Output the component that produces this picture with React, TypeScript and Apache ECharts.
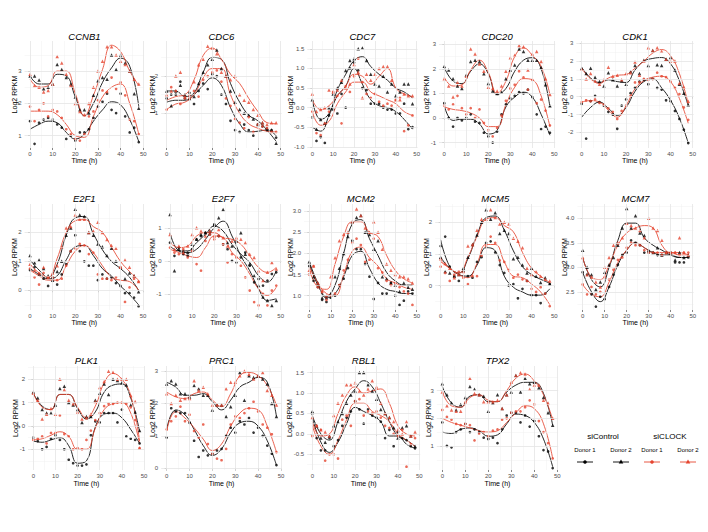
import React, { useEffect, useRef } from "react";
import * as echarts from "echarts";

// ---------- time axes ----------
const TIME_PTS = [0, 2, 4, 6, 8, 10, 12, 14, 16, 18, 20, 22, 24, 26, 28, 30, 32, 34, 36, 38, 40, 42, 44, 46, 48];
const TIME_FIT = [0, 4, 8, 12, 16, 20, 24, 28, 32, 36, 40, 44, 48];
const X_TICKS = [0, 10, 20, 30, 40, 50];

// ---------- CCNB1 ----------
const CCNB1_c1 = [1.45, 0.75, 1.4, 1.5, 1.55, 1.5, 1.35, 1.25, 0.9, 1.0, 0.85, 1.1, 1.1, 1.2, 1.55, 1.9, 2.05, 2.3, 1.8, 1.7, 2.3, 1.6, 1.1, 1.25, 0.8];
const CCNB1_c2 = [2.85, 2.85, 2.72, 2.45, 2.5, 2.6, 3.2, 3.05, 2.8, 2.6, 2.2, 1.8, 1.8, 1.7, 2.25, 2.7, 2.8, 2.75, 3.5, 3.05, 3.5, 3.25, 3.0, 2.3, 1.85];
const CCNB1_k1 = [1.9, 1.45, 1.8, 2.0, 1.6, 1.8, 1.75, 1.55, 1.2, 1.05, 0.9, 0.85, 1.05, 1.6, 1.75, 2.1, 2.4, 2.35, 2.8, 2.45, 2.65, 2.25, 1.5, 1.45, 1.05];
const CCNB1_k2 = [2.9, 2.55, 2.5, 2.35, 2.4, 2.6, 3.45, 3.25, 2.9, 2.55, 2.0, 1.75, 1.65, 2.0, 2.5, 3.0, 3.3, 3.75, 3.75, 3.5, 3.3, 3.2, 3.0, 2.75, 2.6];
const CCNB1_fc1 = [1.2, 1.35, 1.45, 1.4, 1.1, 0.9, 1.05, 1.45, 1.8, 2.05, 1.95, 1.5, 0.82];
const CCNB1_fc2 = [2.85, 2.6, 2.6, 2.9, 2.85, 2.2, 1.62, 2.0, 2.65, 3.1, 3.4, 3.15, 1.9];
const CCNB1_fk1 = [1.76, 1.76, 1.76, 1.65, 1.35, 1.0, 0.95, 1.6, 2.2, 2.5, 2.6, 2.0, 1.05];
const CCNB1_fk2 = [2.75, 2.5, 2.55, 3.0, 3.0, 2.3, 1.62, 2.25, 3.05, 3.8, 3.6, 3.0, 2.55];
const CCNB1_ticks = [1, 2, 3];

// ---------- CDC6 ----------
const CDC6_c1 = [1.4, 1.5, 1.5, 1.85, 1.4, 1.55, 1.25, 1.6, 1.8, 1.65, 2.05, 2.0, 1.5, 1.25, 0.8, 0.55, 0.5, 0.7, 0.55, 0.4, 0.7, 0.65, 0.55, 0.55, 0.35];
const CDC6_c2 = [1.6, 1.2, 1.6, 1.75, 1.5, 1.4, 1.45, 1.8, 2.1, 2.3, 2.45, 2.7, 2.2, 2.0, 1.6, 1.3, 1.1, 1.0, 0.95, 0.85, 0.7, 0.75, 0.6, 0.55, 0.2];
const CDC6_k1 = [1.1, 1.7, 1.6, 1.25, 1.4, 1.4, 1.6, 1.45, 1.9, 2.0, 2.1, 2.15, 1.85, 1.4, 1.2, 0.85, 0.75, 0.6, 0.9, 0.5, 0.7, 0.65, 0.6, 0.5, 0.5];
const CDC6_k2 = [1.5, 1.6, 2.0, 2.1, 1.45, 1.5, 1.85, 2.3, 2.45, 2.8, 2.75, 2.6, 2.1, 2.0, 1.9, 2.0, 1.5, 1.35, 1.3, 1.1, 0.95, 0.75, 0.7, 0.75, 0.75];
const CDC6_fc1 = [1.3, 1.35, 1.35, 1.5, 1.75, 1.95, 1.75, 1.15, 0.72, 0.5, 0.52, 0.55, 0.4];
const CDC6_fc2 = [1.6, 1.6, 1.45, 1.55, 2.1, 2.5, 2.45, 1.8, 1.3, 0.95, 0.8, 0.55, 0.25];
const CDC6_fk1 = [1.1, 1.25, 1.3, 1.5, 1.95, 2.2, 2.2, 1.5, 1.0, 0.72, 0.6, 0.52, 0.5];
const CDC6_fk2 = [1.35, 1.45, 1.5, 1.9, 2.55, 2.75, 2.45, 2.05, 1.8, 1.4, 1.05, 0.75, 0.72];
const CDC6_ticks = [1, 2];

// ---------- CDC7 ----------
const CDC7_c1 = [-0.25, -0.85, -0.75, -0.9, -0.2, -0.05, -0.15, 0.35, 0.0, 1.0, 1.15, 0.95, 0.5, 0.45, 0.1, 0.1, 0.1, 0.0, -0.05, -0.05, -0.15, -0.15, 0.1, -0.55, -0.5];
const CDC7_c2 = [0.2, -0.55, -0.3, -0.4, 0.0, 0.35, 0.5, 0.65, 0.95, 1.2, 1.25, 1.5, 1.52, 1.2, 0.85, 0.6, 0.55, 0.8, 0.4, 0.6, 0.3, 0.4, 0.6, 0.6, 0.1];
const CDC7_k1 = [-0.1, -0.65, -0.7, -0.4, -0.1, 0.4, 0.3, -0.4, 0.55, 0.4, 0.8, 1.25, 0.65, 0.35, 0.25, 0.35, 0.15, 0.05, 0.1, 0.05, 0.2, 0.25, -0.6, -0.45, -0.2];
const CDC7_k2 = [0.35, -0.1, -0.05, 0.0, 0.45, 0.4, 0.45, 0.7, 0.5, 0.6, 1.1, 0.9, 0.25, 0.85, 0.7, 0.85, 1.0, 1.05, 1.05, 0.7, 0.2, 0.2, 0.35, 0.3, 0.3];
const CDC7_fc1 = [-0.5, -0.6, -0.2, 0.3, 0.55, 1.0, 0.6, 0.2, 0.05, 0.0, -0.1, -0.3, -0.55];
const CDC7_fc2 = [0.2, -0.3, -0.15, 0.45, 0.85, 1.2, 1.3, 1.05, 0.85, 0.7, 0.5, 0.4, 0.25];
const CDC7_fk1 = [-0.1, -0.45, -0.35, 0.1, 0.4, 0.65, 0.65, 0.4, 0.3, 0.2, 0.1, -0.1, -0.2];
const CDC7_fk2 = [0.2, -0.05, 0.05, 0.3, 0.55, 0.85, 0.8, 0.6, 0.8, 1.0, 0.5, 0.35, 0.28];
const CDC7_ticks = [-1.0, -0.5, 0.0, 0.5, 1.0, 1.5];

// ---------- CDC20 ----------
const CDC20_c1 = [0.6, 0.0, -0.35, 0.0, -0.1, 0.0, 0.15, -0.15, -0.2, -0.6, -0.75, -1.0, -0.55, 0.15, 0.55, 0.8, 0.9, 1.05, 1.0, 1.15, 0.85, 0.15, -0.45, -0.35, -0.6];
const CDC20_c2 = [2.1, 1.95, 1.6, 1.3, 1.2, 1.75, 2.3, 2.35, 2.3, 1.8, 1.4, 1.1, 1.0, 1.05, 1.6, 1.95, 2.15, 2.8, 2.7, 2.35, 2.35, 2.35, 2.05, 1.35, 0.5];
const CDC20_k1 = [0.5, 0.35, 0.55, 0.9, 0.4, 0.15, 0.4, 0.0, 0.35, -0.2, -0.5, -0.75, -0.4, 0.1, 0.7, 1.2, 1.35, 1.9, 1.65, 1.15, 1.55, 0.6, 0.75, 0.3, -0.3];
const CDC20_k2 = [1.6, 1.3, 0.85, 1.45, 1.3, 1.7, 2.8, 2.6, 2.2, 1.9, 1.25, 1.2, 1.1, 1.3, 1.9, 2.45, 2.55, 2.95, 2.9, 1.95, 2.6, 2.7, 2.3, 1.6, 0.95];
const CDC20_fc1 = [0.5, -0.1, -0.05, -0.05, -0.25, -0.65, -0.5, 0.45, 0.85, 1.05, 0.85, 0.15, -0.7];
const CDC20_fc2 = [2.05, 1.5, 1.4, 1.9, 2.2, 1.8, 0.95, 1.2, 1.9, 2.35, 2.45, 2.0, 0.45];
const CDC20_fk1 = [0.45, 0.35, 0.3, 0.2, 0.0, -0.35, -0.35, 0.55, 1.25, 1.6, 1.55, 0.9, -0.35];
const CDC20_fk2 = [1.65, 1.3, 1.35, 1.95, 2.35, 1.85, 1.0, 1.5, 2.5, 2.85, 2.55, 2.1, 0.95];
const CDC20_ticks = [-1, 0, 1, 2, 3];

// ---------- CDK1 ----------
const CDK1_c1 = [-0.4, -2.35, -0.25, 0.05, -0.3, -0.5, -0.85, -1.0, -1.8, -0.5, -0.15, 0.2, 0.5, 0.85, 0.95, 0.7, 1.0, 0.5, 0.4, -0.2, -0.25, -0.8, -1.25, -1.85, -2.6];
const CDK1_c2 = [1.6, 1.3, 1.6, 1.1, 0.85, 0.6, 1.35, 0.95, 0.6, 0.9, 0.7, 1.4, 1.75, 1.3, 2.05, 1.75, 2.6, 1.8, 1.75, 2.1, 2.2, 1.5, 0.7, 0.2, -0.45];
const CDK1_k1 = [-0.3, -0.2, -0.25, -0.15, -0.35, -0.45, -0.65, -0.85, -1.25, -0.8, -0.5, 0.05, 0.8, 0.8, 1.0, 0.95, 1.0, 1.35, 1.15, 1.1, 0.85, 0.5, 0.15, -0.6, -1.3];
const CDK1_k2 = [1.55, 1.0, 1.3, 0.9, 0.7, 0.95, 1.65, 1.15, 1.2, 0.95, 1.3, 1.35, 1.95, 1.2, 2.0, 2.75, 2.6, 2.75, 2.55, 2.1, 2.0, 2.0, 0.75, 0.55, -0.25];
const CDK1_fc1 = [-1.15, -0.6, -0.3, -0.65, -1.05, -0.6, 0.3, 0.85, 1.0, 0.5, -0.2, -1.2, -2.6];
const CDK1_fc2 = [1.65, 1.05, 0.8, 0.95, 0.85, 0.8, 1.5, 2.0, 2.15, 2.2, 1.85, 0.9, -0.5];
const CDK1_fk1 = [-0.3, -0.22, -0.3, -0.75, -1.15, -0.5, 0.45, 0.9, 1.1, 1.15, 0.85, -0.1, -1.5];
const CDK1_fk2 = [1.6, 1.0, 0.75, 1.05, 1.2, 1.25, 1.6, 2.0, 2.45, 2.65, 2.3, 1.3, -0.4];
const CDK1_ticks = [-2, -1, 0, 1, 2, 3];

// ---------- E2F1 ----------
const E2F1_c1 = [0.7, 0.8, 0.55, 0.4, 0.15, 0.45, 0.2, 0.55, 0.9, 1.35, 1.9, 1.35, 1.0, 0.85, 0.85, 0.35, 0.55, 0.4, 0.45, 0.25, 0.15, -0.1, -0.1, -0.25, -0.55];
const E2F1_c2 = [1.2, 0.95, 1.05, 0.75, 0.5, 0.35, 0.65, 1.0, 1.9, 2.15, 2.8, 2.6, 2.55, 2.0, 1.9, 1.6, 1.5, 1.2, 1.45, 1.0, 0.8, 0.4, 0.6, 0.5, -0.05];
const E2F1_k1 = [0.75, 0.45, 0.2, 0.6, 0.45, 0.45, 0.35, 0.4, 0.85, 1.35, 1.45, 1.6, 1.55, 1.25, 1.3, 0.55, 0.4, 0.4, 0.35, 0.45, 0.8, -0.4, 0.1, 0.4, 0.3];
const E2F1_k2 = [0.9, 0.7, 0.6, 0.8, 0.45, 0.6, 0.85, 1.5, 2.15, 2.2, 2.6, 2.45, 2.45, 2.0, 2.05, 2.35, 2.0, 1.75, 1.55, 1.45, 0.8, 1.05, 0.8, 0.5, 0.3];
const E2F1_fc1 = [0.75, 0.55, 0.4, 0.5, 1.05, 1.5, 1.55, 1.2, 0.75, 0.5, 0.15, -0.15, -0.5];
const E2F1_fc2 = [1.05, 0.7, 0.45, 0.9, 1.9, 2.5, 2.55, 1.95, 1.4, 1.0, 0.75, 0.45, 0.0];
const E2F1_fk1 = [0.7, 0.5, 0.35, 0.35, 0.85, 1.35, 1.55, 1.3, 0.85, 0.45, 0.35, 0.3, 0.0];
const E2F1_fk2 = [0.9, 0.6, 0.45, 1.1, 2.0, 2.4, 2.45, 2.2, 2.0, 1.5, 1.0, 0.65, 0.35];
const E2F1_ticks = [0, 1, 2];

// ---------- E2F7 ----------
const E2F7_c1 = [0.55, 0.15, 0.4, 0.2, 0.15, 0.35, 0.65, 0.75, 0.85, 0.8, 1.1, 0.75, 0.5, 0.35, 0.0, -0.05, 0.1, 0.25, -0.15, -0.65, -0.55, -0.75, -0.6, -0.4, -0.35];
const E2F7_c2 = [1.4, -0.3, 0.35, 0.3, 0.25, 0.5, 0.65, 0.8, 0.85, 0.9, 1.1, 1.3, 1.55, 0.55, 0.45, 0.6, 0.85, 0.2, -0.1, -0.45, -0.75, -1.1, -1.2, -1.35, -1.2];
const E2F7_k1 = [0.4, 0.25, 0.2, 0.35, 0.1, 0.3, -0.1, -0.3, 0.6, 0.8, 0.65, 0.75, 0.5, -0.05, 0.2, 0.1, -0.15, -0.5, -0.9, -1.25, -1.35, -1.0, -1.35, -0.9, -0.75];
const E2F7_k2 = [0.8, 0.35, 0.45, 0.25, 0.45, 0.8, 1.0, 0.9, 0.75, 0.9, 0.75, 0.95, 0.7, 0.45, 0.6, 0.7, 0.65, 0.55, 0.2, 0.1, -0.3, -0.6, -0.35, -0.05, -0.25];
const E2F7_fc1 = [0.45, 0.3, 0.3, 0.55, 0.8, 1.05, 0.9, 0.5, 0.2, -0.05, -0.45, -0.65, -0.3];
const E2F7_fc2 = [0.85, 0.3, 0.25, 0.35, 0.65, 1.0, 1.2, 0.75, 0.15, -0.3, -0.85, -1.2, -1.15];
const E2F7_fk1 = [0.35, 0.25, 0.15, 0.1, 0.4, 0.75, 0.7, 0.25, 0.0, -0.4, -0.85, -1.05, -0.8];
const E2F7_fk2 = [0.55, 0.4, 0.45, 0.75, 0.85, 0.85, 0.7, 0.65, 0.5, 0.15, -0.2, -0.35, -0.2];
const E2F7_ticks = [-1, 0, 1];

// ---------- MCM2 ----------
const MCM2_c1 = [1.7, 1.35, 1.2, 0.9, 0.85, 0.95, 1.0, 1.25, 1.4, 1.65, 2.3, 2.1, 2.1, 1.75, 1.45, 0.92, 1.3, 1.05, 1.05, 1.3, 1.0, 0.78, 0.88, 1.1, 1.05];
const MCM2_c2 = [1.8, 1.45, 1.3, 0.95, 0.95, 1.05, 1.45, 1.65, 2.0, 2.4, 2.75, 2.85, 2.9, 2.5, 2.45, 2.1, 2.3, 1.45, 1.4, 1.3, 1.25, 1.1, 1.3, 1.2, 1.15];
const MCM2_k1 = [1.5, 1.7, 1.2, 1.1, 0.9, 1.0, 1.05, 1.25, 1.6, 1.85, 2.25, 2.35, 2.2, 1.8, 1.85, 2.35, 1.65, 1.55, 1.35, 1.25, 1.3, 1.2, 1.1, 1.05, 0.78];
const MCM2_k2 = [1.6, 1.7, 1.3, 1.1, 1.0, 1.45, 1.9, 2.3, 2.45, 2.5, 2.75, 3.05, 2.9, 2.6, 2.5, 2.75, 2.5, 2.1, 1.75, 1.6, 1.5, 1.45, 1.45, 1.4, 1.3];
const MCM2_fc1 = [1.8, 1.3, 0.95, 1.05, 1.45, 1.95, 2.05, 1.65, 1.3, 1.15, 1.1, 1.05, 1.05];
const MCM2_fc2 = [1.75, 1.25, 0.98, 1.25, 2.0, 2.7, 2.8, 2.35, 1.95, 1.55, 1.35, 1.25, 1.25];
const MCM2_fk1 = [1.7, 1.3, 1.05, 1.0, 1.5, 2.05, 2.15, 1.9, 1.7, 1.4, 1.3, 1.2, 1.15];
const MCM2_fk2 = [1.65, 1.2, 1.15, 1.75, 2.4, 2.75, 2.75, 2.5, 2.4, 1.95, 1.6, 1.4, 1.3];
const MCM2_ticks = [1.0, 1.5, 2.0, 2.5, 3.0];

// ---------- MCM5 ----------
const MCM5_c1 = [1.25, 1.55, 0.6, 0.3, 0.15, 0.45, 0.3, 0.25, 0.75, 0.9, 1.35, 1.4, 1.05, 0.65, 0.4, 0.0, 0.05, -0.4, -0.1, 0.15, -0.3, -0.3, -0.55, -0.25, 0.05];
const MCM5_c2 = [0.9, 0.45, 0.4, 0.3, 0.35, 0.55, 0.9, 1.3, 1.6, 2.0, 2.4, 2.1, 2.3, 1.65, 1.75, 1.65, 0.85, 0.9, 0.65, 0.4, 0.55, 0.3, 0.1, 0.25, 0.05];
const MCM5_k1 = [0.6, 0.4, 0.15, 0.35, 0.45, 0.25, 0.05, 0.3, 0.3, 0.95, 1.25, 1.55, 1.35, 0.8, 0.75, 0.5, 0.25, 0.35, 0.2, 0.15, -0.1, -0.2, -0.05, -0.25, -0.65];
const MCM5_k2 = [0.85, 0.7, 0.55, 0.25, 0.35, 0.45, 1.25, 1.3, 1.75, 2.1, 2.1, 2.4, 2.15, 1.95, 2.0, 1.95, 1.5, 1.4, 1.2, 0.55, 0.35, 0.45, 0.3, 0.2, 0.15];
const MCM5_fc1 = [1.45, 0.6, 0.35, 0.3, 0.65, 1.2, 1.1, 0.3, -0.05, -0.2, -0.3, -0.3, -0.1];
const MCM5_fc2 = [0.9, 0.55, 0.4, 0.85, 1.6, 2.15, 2.2, 1.75, 1.1, 0.6, 0.35, 0.2, 0.08];
const MCM5_fk1 = [0.75, 0.55, 0.35, 0.25, 0.7, 1.3, 1.3, 0.75, 0.3, 0.25, 0.05, -0.2, -0.6];
const MCM5_fk2 = [0.8, 0.55, 0.4, 0.9, 1.55, 2.1, 2.15, 1.9, 1.7, 1.05, 0.55, 0.3, 0.1];
const MCM5_ticks = [0, 1, 2];

// ---------- MCM7 ----------
const MCM7_c1 = [2.9, 2.85, 2.45, 2.2, 2.4, 2.35, 2.6, 2.85, 3.05, 3.25, 3.3, 3.55, 3.5, 3.45, 3.3, 3.3, 3.3, 3.25, 3.25, 3.3, 3.3, 3.1, 3.1, 3.1, 3.2];
const MCM7_c2 = [3.35, 3.0, 2.85, 2.55, 2.7, 2.9, 3.05, 3.2, 3.45, 3.8, 4.2, 3.8, 4.05, 3.7, 3.65, 3.35, 3.3, 3.4, 3.25, 3.3, 3.3, 3.15, 3.3, 3.2, 3.25];
const MCM7_k1 = [2.65, 2.45, 2.6, 2.45, 2.5, 2.8, 2.75, 2.95, 3.15, 3.2, 3.4, 3.5, 3.45, 3.45, 3.35, 3.3, 3.3, 3.3, 3.25, 3.3, 3.3, 3.3, 3.25, 3.3, 3.3];
const MCM7_k2 = [3.2, 2.85, 2.8, 2.7, 2.6, 3.0, 3.2, 3.45, 3.5, 3.6, 3.9, 3.85, 3.8, 3.75, 3.6, 4.0, 3.8, 3.75, 3.55, 3.3, 3.3, 3.3, 3.6, 3.3, 3.25];
const MCM7_fc1 = [2.9, 2.5, 2.3, 2.6, 3.05, 3.35, 3.5, 3.4, 3.3, 3.25, 3.25, 3.2, 3.2];
const MCM7_fc2 = [3.2, 2.75, 2.6, 3.0, 3.55, 3.9, 3.9, 3.6, 3.45, 3.35, 3.25, 3.2, 3.2];
const MCM7_fk1 = [2.65, 2.45, 2.4, 2.7, 3.1, 3.35, 3.5, 3.4, 3.3, 3.3, 3.3, 3.25, 3.25];
const MCM7_fk2 = [3.2, 2.8, 2.75, 3.05, 3.45, 3.7, 3.8, 3.85, 3.8, 3.45, 3.3, 3.3, 3.25];
const MCM7_ticks = [2.5, 3.0, 3.5, 4.0];

// ---------- PLK1 ----------
const PLK1_c1 = [-0.5, -0.65, -1.0, -0.9, -0.55, -0.4, -0.6, -1.0, -1.45, -1.6, -1.7, -1.7, -1.65, -0.4, 0.2, 0.15, 0.55, 0.55, 0.55, 0.15, 0.7, -0.45, -0.55, -0.6, -0.75];
const PLK1_c2 = [1.45, 1.2, 0.7, 0.55, 0.55, 0.9, 1.6, 1.7, 1.0, 0.9, 0.7, 0.15, 0.4, 0.4, 1.1, 1.4, 1.8, 1.35, 2.0, 1.95, 1.85, 1.75, 0.9, 0.6, -0.2];
const PLK1_k1 = [-0.6, -0.55, -0.45, -0.75, -0.3, -0.3, 0.45, -0.35, -0.45, -1.0, -0.95, -1.0, -0.6, -0.2, 0.25, 0.55, 0.85, 0.95, 0.95, 1.0, 1.0, 0.95, 0.8, 0.25, -0.95];
const PLK1_k2 = [1.4, 1.1, 0.3, 0.5, 0.75, 0.5, 2.0, 1.55, 1.1, 0.95, 0.6, 0.3, 0.35, 0.5, 1.05, 1.65, 1.9, 2.35, 2.3, 2.0, 2.0, 2.0, 1.3, 1.05, -0.95];
const PLK1_fc1 = [-0.65, -0.7, -0.6, -0.5, -0.85, -1.6, -1.5, -0.05, 0.5, 0.55, 0.35, -0.15, -0.75];
const PLK1_fc2 = [1.4, 0.85, 0.7, 1.35, 1.35, 0.75, 0.3, 0.6, 1.45, 1.75, 1.8, 1.2, -0.25];
const PLK1_fk1 = [-0.6, -0.55, -0.4, -0.25, -0.45, -1.0, -1.0, -0.1, 0.7, 0.95, 1.0, 0.55, -0.75];
const PLK1_fk2 = [1.4, 0.8, 0.7, 1.35, 1.35, 0.8, 0.35, 0.85, 1.85, 2.25, 2.0, 1.3, -0.65];
const PLK1_ticks = [-1, 0, 1, 2];

// ---------- PRC1 ----------
const PRC1_c1 = [0.95, 1.85, 1.75, 1.7, 1.7, 1.4, 0.85, 0.35, 0.55, 0.4, 0.45, 0.55, 0.6, 1.0, 1.25, 1.1, 1.45, 1.35, 1.55, 1.1, 1.25, 1.0, 0.7, 0.45, 0.1];
const PRC1_c2 = [2.6, 2.7, 2.6, 2.3, 2.3, 2.2, 2.55, 2.45, 2.25, 2.25, 1.8, 1.95, 1.95, 1.6, 1.9, 2.25, 2.95, 2.1, 2.85, 2.8, 2.85, 2.75, 2.6, 2.0, 1.6];
const PRC1_k1 = [1.2, 1.45, 1.6, 1.9, 1.45, 1.65, 1.15, 0.95, 1.35, 0.75, 0.45, 0.3, 0.25, 0.6, 1.35, 1.6, 1.55, 1.7, 1.85, 2.05, 1.75, 1.35, 1.25, 1.05, 0.5];
const PRC1_k2 = [2.3, 2.0, 2.25, 2.1, 2.15, 2.15, 2.7, 2.4, 2.5, 2.3, 1.95, 1.95, 1.95, 2.45, 2.65, 2.65, 2.85, 3.0, 2.9, 2.75, 2.85, 2.95, 2.4, 2.25, 1.95];
const PRC1_fc1 = [1.2, 1.8, 1.65, 1.2, 0.7, 0.4, 0.6, 1.1, 1.4, 1.45, 1.3, 0.85, 0.1];
const PRC1_fc2 = [2.65, 2.5, 2.25, 2.25, 2.3, 2.05, 1.8, 2.1, 2.5, 2.65, 2.8, 2.65, 1.6];
const PRC1_fk1 = [1.15, 1.75, 1.55, 1.25, 0.9, 0.55, 0.75, 1.3, 1.7, 1.85, 1.8, 1.3, 0.5];
const PRC1_fk2 = [2.35, 2.2, 2.15, 2.3, 2.35, 2.1, 1.9, 2.3, 2.85, 2.95, 2.85, 2.55, 1.95];
const PRC1_ticks = [0, 1, 2, 3];

// ---------- RBL1 ----------
const RBL1_c1 = [0.5, -0.1, -0.4, -0.4, -0.1, -0.3, -0.15, 0.2, 0.4, 0.55, 0.8, 0.6, 0.25, 0.6, 0.45, 0.4, 0.3, -0.1, 0.1, -0.3, 0.05, -0.1, -0.15, -0.3, -0.35];
const RBL1_c2 = [0.55, 0.2, -0.1, -0.2, -0.05, 0.2, 0.3, 0.5, 0.75, 0.95, 1.05, 1.5, 1.5, 1.2, 1.05, 0.85, 0.6, 0.5, 0.4, 0.15, -0.1, 0.15, 0.2, -0.05, -0.3];
const RBL1_k1 = [-0.05, 0.2, 0.1, -0.65, -0.5, -0.5, -0.6, 0.35, 0.45, 0.2, 0.8, 0.85, 0.45, 0.55, 0.5, 0.55, 0.4, 0.2, 0.15, 0.0, -0.05, 0.1, -0.8, -0.25, -0.1];
const RBL1_k2 = [0.4, 0.2, 0.1, 0.05, -0.05, 0.45, 0.75, 0.95, 1.2, 1.2, 1.25, 1.05, 0.95, 1.1, 1.3, 1.15, 0.75, 0.5, 0.4, 0.3, 0.1, 0.0, 0.3, -0.05, 0.05];
const RBL1_fc1 = [0.4, -0.2, -0.45, -0.2, 0.25, 0.65, 0.55, 0.45, 0.3, -0.05, -0.05, -0.25, -0.35];
const RBL1_fc2 = [0.45, 0.0, -0.15, 0.3, 0.8, 1.1, 1.3, 1.15, 0.75, 0.3, -0.05, -0.15, -0.3];
const RBL1_fk1 = [0.2, -0.3, -0.5, -0.15, 0.35, 0.75, 0.75, 0.55, 0.45, 0.3, 0.0, -0.15, -0.3];
const RBL1_fk2 = [0.3, -0.05, 0.0, 0.5, 0.95, 1.15, 1.0, 1.05, 1.1, 0.75, 0.2, 0.0, -0.05];
const RBL1_ticks = [-0.5, 0.0, 0.5, 1.0, 1.5];

// ---------- TPX2 ----------
const TPX2_c1 = [1.85, 1.0, 0.95, 1.5, 1.6, 1.8, 1.5, 1.6, 1.5, 1.3, 1.25, 1.3, 1.1, 1.6, 2.1, 2.2, 2.2, 1.85, 2.1, 1.7, 1.9, 1.35, 0.85, 0.8, 0.2];
const TPX2_c2 = [3.25, 2.85, 2.55, 2.3, 2.5, 2.75, 3.15, 3.05, 2.85, 2.8, 2.25, 2.55, 2.85, 2.35, 2.85, 2.95, 3.55, 2.95, 3.45, 3.25, 3.3, 3.1, 2.75, 2.2, 1.75];
const TPX2_k1 = [2.3, 2.05, 1.95, 1.8, 1.75, 1.8, 1.75, 1.2, 1.45, 1.5, 1.35, 1.55, 1.6, 1.95, 2.0, 2.2, 2.25, 2.25, 2.4, 2.65, 2.5, 1.9, 1.5, 1.1, 0.55];
const TPX2_k2 = [2.95, 2.45, 2.3, 2.25, 2.25, 2.6, 3.45, 2.9, 2.85, 2.6, 2.6, 2.6, 2.65, 2.35, 2.85, 3.3, 3.55, 3.65, 3.6, 3.05, 3.2, 3.2, 2.65, 2.55, 2.0];
const TPX2_fc1 = [1.5, 1.45, 1.6, 1.65, 1.55, 1.35, 1.4, 1.8, 2.15, 2.1, 1.85, 1.25, 0.25];
const TPX2_fc2 = [3.15, 2.55, 2.4, 2.8, 2.85, 2.6, 2.6, 2.95, 3.2, 3.3, 3.3, 2.9, 1.75];
const TPX2_fk1 = [2.0, 1.85, 1.75, 1.65, 1.55, 1.5, 1.55, 1.85, 2.2, 2.45, 2.35, 1.8, 0.55];
const TPX2_fk2 = [2.95, 2.45, 2.4, 2.75, 2.85, 2.65, 2.6, 3.0, 3.45, 3.6, 3.35, 2.85, 1.95];
const TPX2_ticks = [1, 2, 3];

// ---------- table built from the arrays ----------
const PANELS = [
  { gene: "CCNB1", pts: [CCNB1_c1, CCNB1_c2, CCNB1_k1, CCNB1_k2], fits: [CCNB1_fc1, CCNB1_fc2, CCNB1_fk1, CCNB1_fk2], ticks: CCNB1_ticks, yMin: 0.62, yMax: 3.93, dec: 0 },
  { gene: "CDC6", pts: [CDC6_c1, CDC6_c2, CDC6_k1, CDC6_k2], fits: [CDC6_fc1, CDC6_fc2, CDC6_fk1, CDC6_fk2], ticks: CDC6_ticks, yMin: 0.07, yMax: 2.94, dec: 0 },
  { gene: "CDC7", pts: [CDC7_c1, CDC7_c2, CDC7_k1, CDC7_k2], fits: [CDC7_fc1, CDC7_fc2, CDC7_fk1, CDC7_fk2], ticks: CDC7_ticks, yMin: -1.03, yMax: 1.70, dec: 1 },
  { gene: "CDC20", pts: [CDC20_c1, CDC20_c2, CDC20_k1, CDC20_k2], fits: [CDC20_fc1, CDC20_fc2, CDC20_fk1, CDC20_fk2], ticks: CDC20_ticks, yMin: -1.22, yMax: 3.13, dec: 0 },
  { gene: "CDK1", pts: [CDK1_c1, CDK1_c2, CDK1_k1, CDK1_k2], fits: [CDK1_fc1, CDK1_fc2, CDK1_fk1, CDK1_fk2], ticks: CDK1_ticks, yMin: -2.88, yMax: 3.13, dec: 0 },
  { gene: "E2F1", pts: [E2F1_c1, E2F1_c2, E2F1_k1, E2F1_k2], fits: [E2F1_fc1, E2F1_fc2, E2F1_fk1, E2F1_fk2], ticks: E2F1_ticks, yMin: -0.68, yMax: 2.98, dec: 0 },
  { gene: "E2F7", pts: [E2F7_c1, E2F7_c2, E2F7_k1, E2F7_k2], fits: [E2F7_fc1, E2F7_fc2, E2F7_fk1, E2F7_fk2], ticks: E2F7_ticks, yMin: -1.49, yMax: 1.72, dec: 0 },
  { gene: "MCM2", pts: [MCM2_c1, MCM2_c2, MCM2_k1, MCM2_k2], fits: [MCM2_fc1, MCM2_fc2, MCM2_fk1, MCM2_fk2], ticks: MCM2_ticks, yMin: 0.66, yMax: 3.17, dec: 1 },
  { gene: "MCM5", pts: [MCM5_c1, MCM5_c2, MCM5_k1, MCM5_k2], fits: [MCM5_fc1, MCM5_fc2, MCM5_fk1, MCM5_fk2], ticks: MCM5_ticks, yMin: -0.77, yMax: 2.58, dec: 0 },
  { gene: "MCM7", pts: [MCM7_c1, MCM7_c2, MCM7_k1, MCM7_k2], fits: [MCM7_fc1, MCM7_fc2, MCM7_fk1, MCM7_fk2], ticks: MCM7_ticks, yMin: 2.13, yMax: 4.29, dec: 1 },
  { gene: "PLK1", pts: [PLK1_c1, PLK1_c2, PLK1_k1, PLK1_k2], fits: [PLK1_fc1, PLK1_fc2, PLK1_fk1, PLK1_fk2], ticks: PLK1_ticks, yMin: -1.89, yMax: 2.57, dec: 0 },
  { gene: "PRC1", pts: [PRC1_c1, PRC1_c2, PRC1_k1, PRC1_k2], fits: [PRC1_fc1, PRC1_fc2, PRC1_fk1, PRC1_fk2], ticks: PRC1_ticks, yMin: -0.05, yMax: 3.15, dec: 0 },
  { gene: "RBL1", pts: [RBL1_c1, RBL1_c2, RBL1_k1, RBL1_k2], fits: [RBL1_fc1, RBL1_fc2, RBL1_fk1, RBL1_fk2], ticks: RBL1_ticks, yMin: -0.88, yMax: 1.66, dec: 1 },
  { gene: "TPX2", pts: [TPX2_c1, TPX2_c2, TPX2_k1, TPX2_k2], fits: [TPX2_fc1, TPX2_fc2, TPX2_fk1, TPX2_fk2], ticks: TPX2_ticks, yMin: 0.13, yMax: 3.89, dec: 0 },
];

// ---------- layout (pixels) ----------
const ROWS = [
  { top: 41, bottom: 148, title: 36.5, time: 160 },
  { top: 204, bottom: 310, title: 198.5, time: 322 },
  { top: 366, bottom: 470, title: 360.5, time: 483 },
];
const BOXES = [
  { row: 0, l: 24.6, r: 144.2, nameX: 14 },
  { row: 0, l: 161.2, r: 281.6, nameX: 152 },
  { row: 0, l: 307.3, r: 417.5, nameX: 290 },
  { row: 0, l: 439, r: 555.2, nameX: 426 },
  { row: 0, l: 576.4, r: 693.6, nameX: 564 },
  { row: 1, l: 24.6, r: 144, nameX: 14 },
  { row: 1, l: 164.7, r: 281.6, nameX: 152 },
  { row: 1, l: 304.1, r: 417.6, nameX: 290 },
  { row: 1, l: 435.2, r: 555.2, nameX: 426 },
  { row: 1, l: 577.4, r: 693.6, nameX: 564 },
  { row: 2, l: 28, r: 144.9, nameX: 15 },
  { row: 2, l: 161.2, r: 281.9, nameX: 152 },
  { row: 2, l: 307.2, r: 420.2, nameX: 289.5 },
  { row: 2, l: 436.8, r: 558.2, nameX: 428.5 },
];

const BLACK = "#000000";
const RED = "#E5452F";
const FONT = "'Liberation Sans', Arial, Helvetica, sans-serif";
const GROUPS = [
  { color: BLACK, symbol: "circle", size: 2.7 },
  { color: BLACK, symbol: "triangle", size: 3.5 },
  { color: RED, symbol: "circle", size: 2.7 },
  { color: RED, symbol: "triangle", size: 3.5 },
];

function minorOf(ticks: number[], lo: number, hi: number): number[] {
  const step = ticks[1] - ticks[0];
  const out: number[] = [];
  for (let v = ticks[0] - step / 2 - step * 4; v < hi; v += step) {
    if (v > lo && v < hi) out.push(Math.round(v * 1000) / 1000);
  }
  return out;
}

function txt(text: string, x: number, y: number, size: number, extra: any = {}, rotation = 0) {
  return {
    type: "text", x, y, rotation, silent: true,
    style: { text, fontSize: size, fontFamily: FONT, fontWeight: "normal", fill: "#000", align: "center", verticalAlign: "middle", ...extra },
  };
}

function buildOption() {
  const grid: any[] = [];
  const xAxis: any[] = [];
  const yAxis: any[] = [];
  const series: any[] = [];
  const graphic: any[] = [];

  PANELS.forEach((p, i) => {
    const b = BOXES[i];
    const row = ROWS[b.row];
    grid.push({ left: b.l, top: row.top, width: b.r - b.l, height: row.bottom - row.top, containLabel: false, outerBoundsMode: "none" });
    xAxis.push({
      gridIndex: i, type: "value", min: -2.4, max: 50.4,
      axisLine: { show: false }, splitLine: { show: false },
      axisTick: { show: true, length: 2, lineStyle: { color: "#333", width: 0.6 }, customValues: X_TICKS },
      axisLabel: { customValues: X_TICKS, fontSize: 6, color: "#4d4d4d", margin: 2.5, fontFamily: FONT },
    });
    yAxis.push({
      gridIndex: i, type: "value", min: p.yMin, max: p.yMax,
      axisLine: { show: false }, splitLine: { show: false },
      axisTick: { show: true, length: 2, lineStyle: { color: "#333", width: 0.6 }, customValues: p.ticks },
      axisLabel: { customValues: p.ticks, fontSize: 6, color: "#4d4d4d", margin: 3, fontFamily: FONT,
        formatter: (v: number) => v.toFixed(p.dec) },
    });

    const xMinor = [5, 15, 25, 35, 45];
    const yMinor = minorOf(p.ticks, p.yMin, p.yMax);
    const majorStyle = { color: "#e4e4e4", width: 0.8, type: "solid" };
    const minorStyle = { color: "#f1f1f1", width: 0.5, type: "solid" };
    series.push({
      type: "line", xAxisIndex: i, yAxisIndex: i, data: [], silent: true, z: 0,
      markLine: {
        silent: true, symbol: ["none", "none"], label: { show: false }, animation: false,
        emphasis: { disabled: true },
        data: [
          ...xMinor.map((v) => ({ xAxis: v, lineStyle: minorStyle })),
          ...yMinor.map((v) => ({ yAxis: v, lineStyle: minorStyle })),
          ...X_TICKS.map((v) => ({ xAxis: v, lineStyle: majorStyle })),
          ...p.ticks.map((v) => ({ yAxis: v, lineStyle: majorStyle })),
        ],
      },
    });

    GROUPS.forEach((g, k) => {
      series.push({
        type: "line", xAxisIndex: i, yAxisIndex: i, silent: true, z: 2,
        data: TIME_FIT.map((t, j) => [t, p.fits[k][j]]),
        smooth: 0.45, showSymbol: false, symbol: "none",
        lineStyle: { color: g.color, width: 0.85 },
      });
      series.push({
        type: "scatter", xAxisIndex: i, yAxisIndex: i, silent: true, z: 3,
        data: TIME_PTS.map((t, j) => [t, p.pts[k][j]]),
        symbol: g.symbol, symbolSize: g.size,
        itemStyle: { color: g.color, borderWidth: 0 },
      });
    });

    const cx = (b.l + b.r) / 2;
    graphic.push(txt(p.gene, cx, row.title, 9.5, { fontStyle: "italic" }));
    graphic.push(txt("Time (h)", cx, row.time, 7));
    graphic.push(txt("Log2 RPKM", b.nameX, (row.top + row.bottom) / 2, 7, {}, Math.PI / 2));
  });

  // legend
  graphic.push(txt("siControl", 603, 436, 8));
  graphic.push(txt("siCLOCK", 670, 436, 8));
  const keyX = [585, 621, 652, 688];
  const keyLabels = ["Donor 1", "Donor 2", "Donor 1", "Donor 2"];
  GROUPS.forEach((g, k) => {
    const x = keyX[k];
    const y = 462;
    graphic.push(txt(keyLabels[k], x, 450, 6));
    graphic.push({ type: "line", silent: true, shape: { x1: x - 8, y1: y, x2: x + 8, y2: y }, style: { stroke: g.color, lineWidth: 0.9 } });
    if (g.symbol === "circle") {
      graphic.push({ type: "circle", silent: true, shape: { cx: x, cy: y, r: 1.8 }, style: { fill: g.color } });
    } else {
      graphic.push({ type: "polygon", silent: true, shape: { points: [[x, y - 2.5], [x - 2.3, y + 1.5], [x + 2.3, y + 1.5]] }, style: { fill: g.color } });
    }
  });

  return {
    animation: false,
    backgroundColor: "#ffffff",
    textStyle: { fontFamily: FONT },
    grid, xAxis, yAxis, series, graphic,
  };
}

export default function App() {
  const ref = useRef<HTMLDivElement>(null);
  useEffect(() => {
    if (!ref.current) return;
    const chart = echarts.init(ref.current, null, { renderer: "svg" });
    chart.setOption(buildOption() as any);
    return () => chart.dispose();
  }, []);
  return <div ref={ref} style={{ position: "absolute", left: 0, top: 0, width: 708, height: 532, background: "#fff" }} />;
}
